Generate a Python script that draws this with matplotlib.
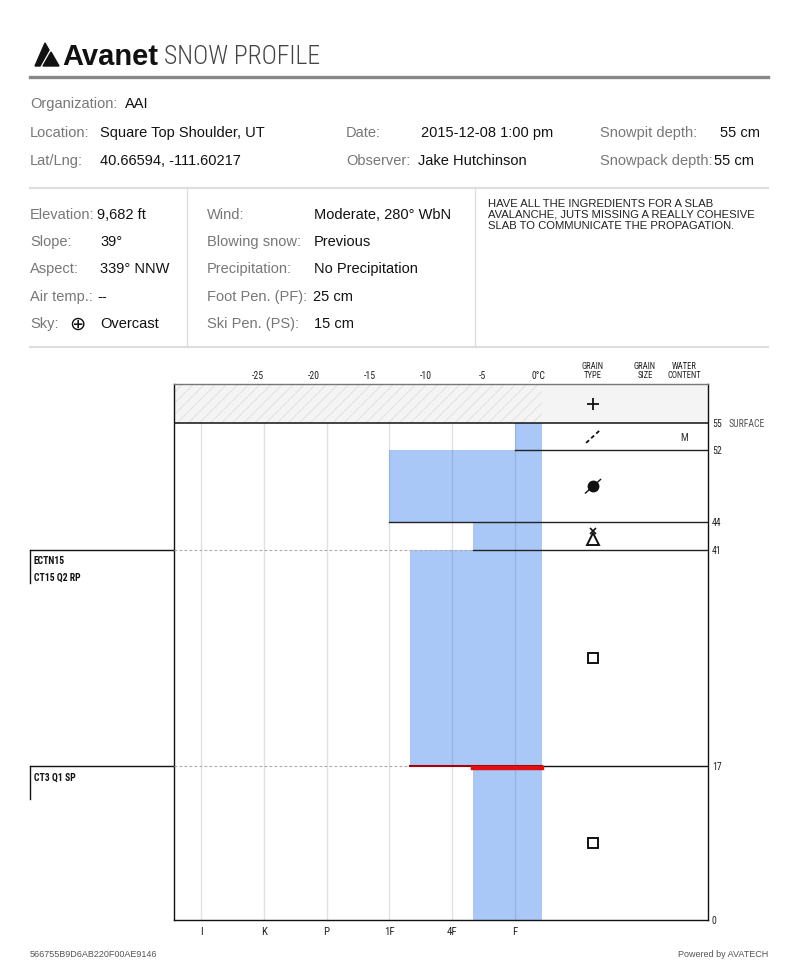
import matplotlib
matplotlib.use("Agg")
import matplotlib.pyplot as plt
import matplotlib.transforms as mtransforms
from matplotlib.patches import Rectangle, Polygon
from matplotlib.lines import Line2D

plt.rcParams['font.family'] = ['Liberation Sans', 'DejaVu Sans']
NARROW = ['Roboto Condensed', 'Liberation Sans Narrow', 'Roboto', 'DejaVu Sans']

# ---------------- data ----------------
layer_top = [55, 52, 44, 41, 17]
layer_bottom = [52, 44, 41, 17, 0]
layer_hardness = ['F', '1F', '4F-', '1F-', '4F-']
layer_grain = ['DF', 'MFcr', 'SHxr', 'FC', 'FC']
layer_water = ['M', '', '', '', '']
surface_grain = 'PP'
hardness_labels = ['I', 'K', 'P', '1F', '4F', 'F']
temp_ticks = [-25, -20, -15, -10, -5, 0]
temp_labels = ['-25', '-20', '-15', '-10', '-5', '0°C']
depth_marks = [55, 52, 44, 41, 17, 0]
test_depths = [41, 17]
test_results = [['ECTN15', 'CT15 Q2 RP'], ['CT3 Q1 SP']]
failure_depth = 17

info_rows = [
    [('Organization:', 'AAI')],
    [('Location:', 'Square Top Shoulder, UT'), ('Date:', '2015-12-08 1:00 pm'), ('Snowpit depth:', '55 cm')],
    [('Lat/Lng:', '40.66594, -111.60217'), ('Observer:', 'Jake Hutchinson'), ('Snowpack depth:', '55 cm')],
]
site_col1 = [('Elevation:', '9,682 ft'), ('Slope:', '39°'), ('Aspect:', '339° NNW'),
             ('Air temp.:', '--'), ('Sky:', 'Overcast')]
site_col2 = [('Wind:', 'Moderate, 280° WbN'), ('Blowing snow:', 'Previous'),
             ('Precipitation:', 'No Precipitation'), ('Foot Pen. (PF):', '25 cm'),
             ('Ski Pen. (PS):', '15 cm')]
notes = "HAVE ALL THE INGREDIENTS FOR A SLAB\nAVALANCHE, JUTS MISSING A REALLY COHESIVE\nSLAB TO COMMUNICATE THE PROPAGATION."
footer_id = "566755B9D6AB220F00AE9146"

# ---------------- layout helpers ----------------
W, H = 800, 979
fig = plt.figure(figsize=(W / 100, H / 100), dpi=100)
pix = mtransforms.Affine2D().scale(1 / W, -1 / H).translate(0, 1) + fig.transFigure


def ftext(x, y, s, **kw):
    kw.setdefault('va', 'center')
    fig.text(x / W, 1 - y / H, s, **kw)


def fline(xs, ys, **kw):
    fig.add_artist(Line2D(xs, ys, transform=pix, **kw))


# ---------------- header ----------------
fig.add_artist(Polygon([(35, 67), (45, 44), (49, 51), (40, 67)], closed=True,
                       color='#111', transform=pix))
fig.add_artist(Polygon([(43, 67), (51, 53), (59, 67)], closed=True,
                       color='#111', transform=pix))
ftext(62, 57, 'Avanet', fontsize=21, fontweight='bold', color='#111',
      family=['Liberation Sans', 'DejaVu Sans'])
ftext(164, 57, 'SNOW PROFILE', fontsize=18.5, color='#444', family=NARROW,
      fontweight='light')
fline([30, 768], [78, 78], color='#888', lw=2.4)

lab_c, val_c, fs = '#777', '#111', 10.5
row_y = [104, 133, 161]
col_x = [(30, 100), (346, 421), (600, 720)]
for r, row in enumerate(info_rows):
    for c, (lab, val) in enumerate(row):
        lx, vx = col_x[c]
        if lab == 'Organization:':
            vx = 125
        if lab == 'Observer:':
            vx = 418
        if lab == 'Snowpack depth:':
            vx = 714
        ftext(lx, row_y[r], lab, fontsize=fs, color=lab_c)
        ftext(vx, row_y[r], val, fontsize=fs, color=val_c)

fline([30, 768], [189, 189], color='#dddddd', lw=1.5)
fline([30, 768], [348, 348], color='#dddddd', lw=1.5)
fline([187, 187], [189, 348], color='#dddddd', lw=1)
fline([475, 475], [189, 348], color='#dddddd', lw=1)

site_y = [215, 242, 269, 297, 324]
for i, (lab, val) in enumerate(site_col1):
    ftext(30, site_y[i], lab, fontsize=fs, color=lab_c)
    vx = 97 if lab in ('Elevation:', 'Air temp.:') else 100
    if lab == 'Sky:':
        ftext(77, site_y[i], '⊕', fontsize=14, color='#111', ha='center',
              family=['DejaVu Sans'])
    ftext(vx, site_y[i], val, fontsize=fs, color=val_c)
for i, (lab, val) in enumerate(site_col2):
    ftext(207, site_y[i], lab, fontsize=fs, color=lab_c)
    vx = 313 if lab.startswith('Foot') else 314
    ftext(vx, site_y[i], val, fontsize=fs, color=val_c)
ftext(488, 199, notes, fontsize=8.1, color='#222', va='top', linespacing=1.12)

ftext(30, 955, footer_id, fontsize=6.5, color='#555')
ftext(768, 955, 'Powered by AVATECH', fontsize=6.5, color='#555', ha='right')

# ---------------- profile chart ----------------
STEP = 62.8                      # px per hardness step
H_LEFT = 1 - 27 / STEP
H_RIGHT = 1 + 341 / STEP         # right edge of hardness area
X_MAX = 1 + 507 / STEP
GT_X = 1 + 392 / STEP
GS_X = 1 + 444 / STEP
WC_X = 1 + 483 / STEP
T0_X = 1 + 337 / STEP
T_STEP = 11.2 / STEP
surface = layer_top[0]
Y_MAX = surface + 39 / (497 / surface)

ax = fig.add_axes([174 / W, 1 - 921 / H, (708 - 174) / W, (921 - 385) / H])
ax.set_xlim(H_LEFT, X_MAX)
ax.set_ylim(0, Y_MAX)

base = {k: i + 1 for i, k in enumerate(hardness_labels)}


def hval(code):
    if code.endswith('-'):
        return base[code[:-1]] + 1 / 3
    if code.endswith('+'):
        return base[code[:-1]] - 1 / 3
    return base[code]


hv = [hval(c) for c in layer_hardness]

# header band
ax.add_patch(Rectangle((H_LEFT, surface), X_MAX - H_LEFT, Y_MAX - surface,
                       facecolor='#f4f4f4', edgecolor='none', zorder=0))
plt.rcParams['hatch.linewidth'] = 0.6
ax.add_patch(Rectangle((H_LEFT, surface), H_RIGHT - H_LEFT, Y_MAX - surface,
                       facecolor='none', edgecolor='#dedede', hatch='///', lw=0, zorder=0.5))

# hardness bars
heights = [t - b for t, b in zip(layer_top, layer_bottom)]
ax.barh(layer_bottom, [v - H_RIGHT for v in hv], left=H_RIGHT, height=heights,
        align='edge', color='#a9c8f8', zorder=1)
ax.vlines(range(1, len(hardness_labels) + 1), 0, surface, colors='#3a4a66', alpha=0.16,
          lw=1, zorder=2)

# layer boundaries
ax.plot([H_LEFT, X_MAX], [surface, surface], color='#111', lw=1.1, zorder=4)
for i in range(len(layer_top) - 1):
    y = layer_bottom[i]
    if y == failure_depth:
        ax.plot([hv[i], H_RIGHT], [y, y], color='#a40000', lw=1.5, zorder=5)
        ax.plot([hv[i + 1], H_RIGHT], [y - 0.22, y - 0.22], color='#e01010', lw=3.2, zorder=5)
        ax.plot([H_RIGHT, X_MAX], [y, y], color='#111', lw=1, zorder=4)
    else:
        ax.plot([hv[i], X_MAX], [y, y], color='#222', lw=1, zorder=4)

# stability tests
blend = mtransforms.blended_transform_factory(fig.transFigure, ax.transData)
cm_px = 497 / surface
for d, res in zip(test_depths, test_results):
    i = layer_bottom.index(d)
    ax.plot([H_LEFT, hv[i]], [d, d], color='#aaaaaa', lw=0.8, ls=(0, (2.5, 2)), zorder=3)
    ax.plot([30 / W, 174 / W], [d, d], color='#111', lw=1, transform=blend, clip_on=False)
    ax.plot([30 / W, 30 / W], [d, d - 33 / cm_px], color='#111', lw=1, transform=blend,
            clip_on=False)
    for k, s in enumerate(res):
        ax.text(34 / W, d - (10 + 17 * k) / cm_px, s, transform=blend, fontsize=7,
                fontweight='bold', family=NARROW, va='center', color='#111')

# grain symbols
sym_kw = dict(color='#111', zorder=6, clip_on=False)


def draw_grain(code, y):
    if code == 'PP':
        ax.plot(GT_X, y, marker='+', ms=9, mew=1.3, ls='none', **sym_kw)
    elif code == 'DF':
        ax.plot([GT_X - 0.11, GT_X + 0.11], [y - 0.7, y + 0.7], lw=1.3,
                ls=(0, (2.2, 1.6)), **sym_kw)
    elif code == 'MFcr':
        ax.plot(GT_X, y, marker='o', ms=7.5, ls='none', **sym_kw)
        ax.plot([GT_X - 0.12, GT_X + 0.12], [y - 0.75, y + 0.75], lw=1, **sym_kw)
    elif code == 'SHxr':
        ax.plot(GT_X, y - 0.35, marker='^', ms=8.5, mfc='white', mew=1.4, ls='none', **sym_kw)
        ax.plot(GT_X, y + 0.55, marker='x', ms=5, mew=1.2, ls='none', **sym_kw)
    elif code == 'FC':
        ax.plot(GT_X, y, marker='s', ms=7, mfc='white', mew=1.4, ls='none', **sym_kw)


draw_grain(surface_grain, (surface + Y_MAX) / 2)
for t, b, g, w in zip(layer_top, layer_bottom, layer_grain, layer_water):
    mid = (t + b) / 2
    draw_grain(g, mid)
    if w:
        ax.text(WC_X, mid, w, ha='center', va='center', fontsize=7.5, color='#333',
                family=NARROW)

# column headers above chart
top_blend = mtransforms.blended_transform_factory(ax.transData, ax.transAxes)
for x, s in [(GT_X, 'GRAIN\nTYPE'), (GS_X, 'GRAIN\nSIZE'), (WC_X, 'WATER\nCONTENT')]:
    ax.text(x, 1 + 14 / 536, s, transform=top_blend, ha='center', va='center',
            fontsize=6.2, family=NARROW, color='#222', linespacing=1.05)

# depth labels on right
right_blend = mtransforms.blended_transform_factory(ax.transAxes, ax.transData)
for d in depth_marks:
    ax.text(1 + 4 / 534, d, str(d), transform=right_blend, va='center', ha='left',
            fontsize=7, family=NARROW, color='#222')
ax.text(1 + 21 / 534, surface, 'SURFACE', transform=right_blend, va='center', ha='left',
        fontsize=7, family=NARROW, color='#555')

# axes styling
for side in ['left', 'bottom', 'right']:
    ax.spines[side].set_color('#111')
    ax.spines[side].set_linewidth(1)
ax.spines['top'].set_color('#777')
ax.spines['top'].set_linewidth(1)
ax.set_yticks([])
ax.set_xticks(range(1, len(hardness_labels) + 1))
ax.set_xticklabels(hardness_labels, family=NARROW, fontsize=7.8, color='#222')
ax.tick_params(axis='x', length=0, pad=4)

sec = ax.secondary_xaxis('top', functions=(lambda x: (x - T0_X) / T_STEP,
                                           lambda t: T0_X + t * T_STEP))
sec.set_xticks(temp_ticks)
sec.set_xticklabels(temp_labels, family=NARROW, fontsize=7, color='#222')
sec.tick_params(length=0, pad=3)
sec.spines['top'].set_visible(False)

fig.savefig('out.png', dpi=100)
